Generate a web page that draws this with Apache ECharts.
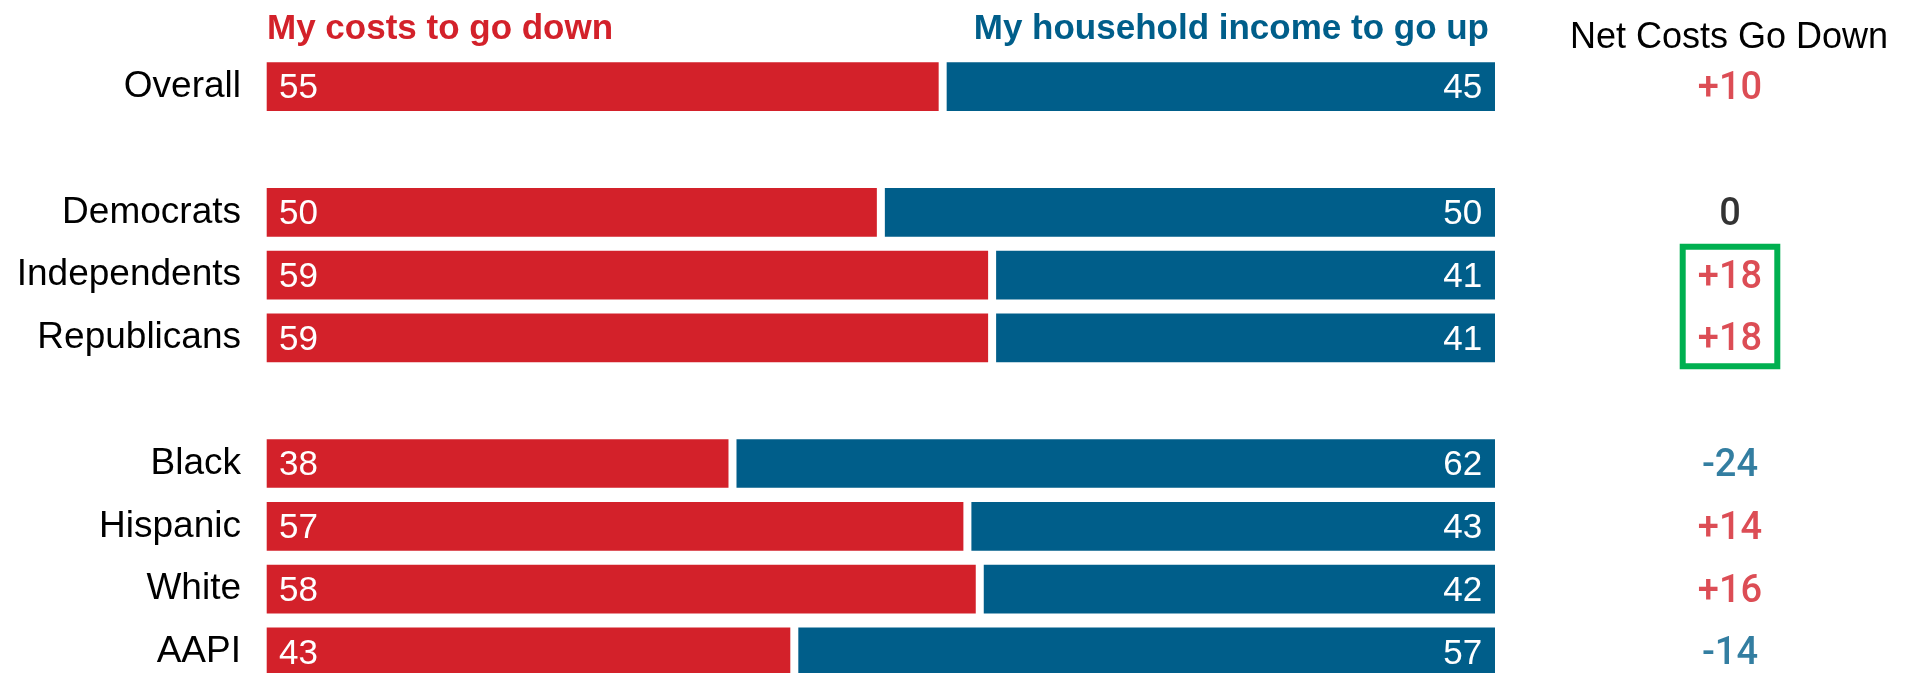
<!DOCTYPE html>
<html>
<head>
<meta charset="utf-8">
<title>Costs down vs. income up</title>
<script src="https://cdn.jsdelivr.net/npm/echarts@6/dist/echarts.min.js"></script>
<style>
  html, body { margin: 0; padding: 0; background: #fff; }
  #chart { width: 1913px; height: 673px; }
</style>
</head>
<body>
<div id="chart"></div>
<script>
// Row labels (blank strings are spacer rows between the groups)
const categories = ['Overall', '', 'Democrats', 'Independents', 'Republicans', ' ',
                    'Black', 'Hispanic', 'White', 'AAPI'];
// Share preferring "My costs to go down"
const costsDown = [55, null, 50, 59, 59, null, 38, 57, 58, 43];
// Share preferring "My household income to go up"
const incomeUp = [45, null, 50, 41, 41, null, 62, 43, 42, 57];
// Net preference for costs going down
const netCostsDown = [10, null, 0, 18, 18, null, -24, 14, 16, -14];
// Rows outlined in the net column
const outlinedRows = ['Independents', 'Republicans'];

const RED = '#D3212A';
const BLUE = '#005E8A';
const GREEN = '#00B050';
const FONT = '"Liberation Sans", Arial, sans-serif';
const NUM_FONT = 'Roboto, "Liberation Sans", Arial, sans-serif';

const chart = echarts.init(document.getElementById('chart'), null, { renderer: 'canvas' });

function netText(v) {
  if (v == null) return '';
  return v > 0 ? '+' + v : String(v);
}
function netColor(v) {
  if (v > 0) return RED;
  if (v < 0) return BLUE;
  return '#000';
}

// Rows sit on the category ticks (no boundary gap): first row centre at the
// grid top, last row centre at the grid bottom; bars are not clipped.
const gridTop = 86.7;
const gridHeight = 565.2;

const option = {
  animation: false,
  backgroundColor: '#fff',
  grid: [
    { left: 262.7, top: gridTop, width: 1236.3, height: gridHeight },
    { left: 1630, top: gridTop, width: 200, height: gridHeight }
  ],
  xAxis: [
    { gridIndex: 0, type: 'value', min: 0, max: 100, show: false },
    { gridIndex: 1, type: 'value', min: -1, max: 1, show: false }
  ],
  yAxis: [
    {
      gridIndex: 0, type: 'category', data: categories, inverse: true, boundaryGap: false,
      axisLine: { show: false }, axisTick: { show: false }, splitLine: { show: false },
      axisLabel: { color: '#000', fontSize: 37, fontFamily: FONT, margin: 21.7, padding: [4, 0, 0, 0] }
    },
    {
      gridIndex: 1, type: 'category', data: categories, inverse: true, boundaryGap: false, show: false
    }
  ],
  graphic: [
    {
      type: 'text',
      style: {
        x: 267, y: 29, text: 'My costs to go down', fill: RED,
        font: 'bold 35px ' + FONT, textAlign: 'left', textVerticalAlign: 'middle'
      }
    },
    {
      type: 'text',
      style: {
        x: 1489, y: 29, text: 'My household income to go up', fill: BLUE,
        font: 'bold 35px ' + FONT, textAlign: 'right', textVerticalAlign: 'middle'
      }
    },
    {
      type: 'text',
      style: {
        x: 1729, y: 38, text: 'Net Costs Go Down', fill: '#000',
        font: '36px ' + FONT, textAlign: 'center', textVerticalAlign: 'middle'
      }
    }
  ],
  series: [
    {
      name: 'My costs to go down',
      type: 'bar', stack: 'total', xAxisIndex: 0, yAxisIndex: 0,
      barWidth: 56.7, clip: false,
      data: costsDown,
      itemStyle: { color: RED, borderColor: '#fff', borderWidth: 4 },
      label: {
        show: true, position: 'insideLeft', distance: 16.3, offset: [0, 2],
        color: '#fff', fontSize: 35, fontFamily: FONT
      }
    },
    {
      name: 'My household income to go up',
      type: 'bar', stack: 'total', xAxisIndex: 0, yAxisIndex: 0,
      barWidth: 56.7, clip: false,
      data: incomeUp,
      itemStyle: { color: BLUE, borderColor: '#fff', borderWidth: 4 },
      label: {
        show: true, position: 'insideRight', distance: 16.7, offset: [0, 2],
        color: '#fff', fontSize: 35, fontFamily: FONT
      }
    },
    {
      name: 'Net Costs Go Down',
      type: 'scatter', xAxisIndex: 1, yAxisIndex: 1,
      symbolSize: 0, clip: false,
      data: netCostsDown.map(function (v, i) {
        if (v == null) return null;
        return {
          value: [0, i],
          label: { color: netColor(v) }
        };
      }).filter(function (d) { return d !== null; }),
      label: {
        show: true, position: 'inside', offset: [0, 3],
        fontSize: 38, fontWeight: 500, fontFamily: NUM_FONT,
        formatter: function (p) { return netText(netCostsDown[p.value[1]]); }
      },
      emphasis: { disabled: true }
    },
    {
      // outline around the highlighted rows of the net column
      type: 'custom', xAxisIndex: 1, yAxisIndex: 1, clip: false,
      data: [[0, categories.indexOf(outlinedRows[0]), categories.indexOf(outlinedRows[outlinedRows.length - 1])]],
      renderItem: function (params, api) {
        const first = api.coord([api.value(0), api.value(1)]);
        const last = api.coord([api.value(0), api.value(2)]);
        const step = api.coord([api.value(0), api.value(1) + 1])[1] - first[1];
        const inset = step / 2 - 3;
        const halfW = 47.3;
        return {
          type: 'rect',
          shape: {
            x: first[0] - halfW,
            y: first[1] - inset,
            width: halfW * 2,
            height: (last[1] + inset) - (first[1] - inset)
          },
          style: { fill: 'none', stroke: GREEN, lineWidth: 6 }
        };
      },
      silent: true
    }
  ]
};

chart.setOption(option);
</script>
</body>
</html>
